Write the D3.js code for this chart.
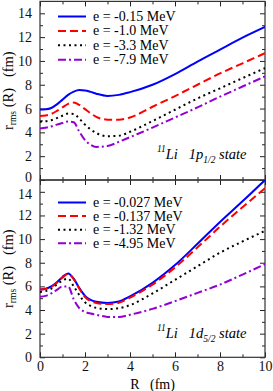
<!DOCTYPE html>
<html>
<head>
<meta charset="utf-8">
<script src="https://cdn.jsdelivr.net/npm/d3@7"></script>
<style>
  body { margin: 0; background: #fff; }
  svg { display: block; font-family: "Liberation Serif", "DejaVu Serif", serif; }
  text { white-space: pre; }
</style>
</head>
<body>
<script>
// R grid shared by every curve (fm)
const rGrid = [0, 0.25, 0.5, 0.75, 1.0, 1.25, 1.5, 1.75, 2.0, 2.25, 2.5, 3.0, 3.5, 4, 5, 6, 7, 8, 9, 10];

// 1p1/2 state
const pLabels = ["e = -0.15 MeV", "e = -1.0 MeV", "e = -3.3 MeV", "e = -7.9 MeV"];
const p015 = [5.92, 5.94, 6.05, 6.35, 6.75, 7.15, 7.42, 7.55, 7.52, 7.4, 7.25, 7.06, 7.15, 7.38, 8.0, 8.9, 9.95, 10.95, 11.95, 12.85];
const p10  = [5.38, 5.42, 5.55, 5.8, 6.1, 6.4, 6.5, 6.3, 5.95, 5.6, 5.3, 5.07, 5.06, 5.25, 6.15, 7.05, 8.0, 8.95, 9.8, 10.65];
const p33  = [4.9, 4.93, 5.02, 5.2, 5.4, 5.58, 5.55, 5.15, 4.65, 4.25, 3.95, 3.68, 3.72, 4.05, 4.95, 5.9, 6.85, 7.7, 8.55, 9.4];
const p79  = [4.32, 4.38, 4.5, 4.65, 4.78, 4.92, 4.85, 4.05, 3.35, 2.95, 2.78, 2.85, 3.2, 3.6, 4.4, 5.25, 6.1, 7.0, 7.85, 8.7];

// 1d5/2 state
const dLabels = ["e = -0.027 MeV", "e = -0.137 MeV", "e = -1.32 MeV", "e = -4.95 MeV"];
const d0027 = [5.73, 5.8, 6.0, 6.35, 6.8, 7.1, 6.65, 5.85, 5.2, 4.85, 4.7, 4.6, 4.72, 5.15, 6.3, 7.8, 9.6, 11.45, 13.2, 15.0];
const d0137 = [5.73, 5.78, 5.95, 6.3, 6.75, 7.05, 6.6, 5.8, 5.1, 4.75, 4.6, 4.5, 4.62, 5.05, 6.15, 7.6, 9.3, 11.05, 12.7, 14.3];
const d132  = [5.53, 5.6, 5.8, 6.15, 6.5, 6.65, 6.0, 5.25, 4.65, 4.35, 4.18, 4.08, 4.15, 4.42, 5.4, 6.55, 7.7, 8.85, 9.8, 10.7];
const d495  = [5.12, 5.2, 5.4, 5.7, 6.0, 6.0, 4.9, 4.15, 3.85, 3.7, 3.6, 3.42, 3.4, 3.6, 4.1, 4.75, 5.45, 6.15, 7.0, 7.87];

const xTicks = [0, 2, 4, 6, 8, 10];
const yTicks = [0, 2, 4, 6, 8, 10, 12, 14];

const styles = [
  { color: "#0000ff", dash: null, width: 2 },
  { color: "#ff0000", dash: "8,4", width: 2 },
  { color: "#000000", dash: "2,3.5", width: 2 },
  { color: "#9400d3", dash: "8,3,2,3", width: 2 }
];

const width = 273, height = 391;
const left = 40, right = 265;

const svg = d3.select("body").append("svg")
  .attr("width", width)
  .attr("height", height);

const x = d3.scaleLinear().domain([0, 10]).range([left, right]);

function panel(top, bottom, series, labels, legendY, legendStep, note, clipId, showX, nudge) {
  const y = d3.scaleLinear().domain([0, 15]).range([bottom, top]);
  const g = svg.append("g");

  svg.append("clipPath").attr("id", clipId)
    .append("rect").attr("x", left).attr("y", top).attr("width", right - left).attr("height", bottom - top);

  // ticks, all pointing inward
  const minorX = d3.range(1, 10, 2);
  const minorY = d3.range(1, 15, 2);
  g.append("g").attr("transform", `translate(0,${bottom})`)
    .call(d3.axisBottom(x).tickValues(xTicks).tickSizeInner(-5).tickSizeOuter(0).tickPadding(4)
      .tickFormat(showX ? d3.format("d") : ""));
  g.append("g").attr("transform", `translate(0,${bottom})`)
    .call(d3.axisBottom(x).tickValues(minorX).tickSizeInner(-3).tickSizeOuter(0).tickFormat(""));
  g.append("g").attr("transform", `translate(0,${top})`)
    .call(d3.axisTop(x).tickValues(xTicks).tickSizeInner(-5).tickSizeOuter(0).tickFormat(""));
  g.append("g").attr("transform", `translate(0,${top})`)
    .call(d3.axisTop(x).tickValues(minorX).tickSizeInner(-3).tickSizeOuter(0).tickFormat(""));
  const yAxis = g.append("g").attr("transform", `translate(${left},0)`)
    .call(d3.axisLeft(y).tickValues(yTicks).tickSizeInner(-5).tickSizeOuter(0).tickPadding(8));
  g.append("g").attr("transform", `translate(${left},0)`)
    .call(d3.axisLeft(y).tickValues(minorY).tickSizeInner(-3).tickSizeOuter(0).tickFormat(""));
  g.append("g").attr("transform", `translate(${right},0)`)
    .call(d3.axisRight(y).tickValues(yTicks).tickSizeInner(-5).tickSizeOuter(0).tickFormat(""));
  g.append("g").attr("transform", `translate(${right},0)`)
    .call(d3.axisRight(y).tickValues(minorY).tickSizeInner(-3).tickSizeOuter(0).tickFormat(""));

  g.selectAll(".domain").remove();
  g.selectAll(".tick line").attr("stroke", "#222");
  g.selectAll(".tick text").attr("font-size", 14).attr("font-family", "Liberation Serif").attr("fill", "#111");
  // keep the shared-edge labels (top 0, bottom 14) apart a little
  yAxis.selectAll(".tick text").filter(d => d === nudge.value).attr("dy", nudge.dy);

  // frame
  g.append("rect").attr("x", left).attr("y", top).attr("width", right - left).attr("height", bottom - top)
    .attr("fill", "none").attr("stroke", "#333").attr("stroke-width", 1.2);

  // curves
  const line = d3.line().x((d, i) => x(rGrid[i])).y(d => y(d)).curve(d3.curveMonotoneX);
  series.forEach((s, i) => {
    g.append("path").attr("d", line(s))
      .attr("clip-path", `url(#${clipId})`)
      .attr("fill", "none")
      .attr("stroke", styles[i].color)
      .attr("stroke-width", styles[i].width)
      .attr("stroke-dasharray", styles[i].dash);
  });

  // legend
  labels.forEach((lab, i) => {
    const ly = legendY + i * legendStep;
    g.append("line").attr("x1", 58).attr("x2", 86).attr("y1", ly).attr("y2", ly)
      .attr("stroke", styles[i].color).attr("stroke-width", styles[i].width)
      .attr("stroke-dasharray", styles[i].dash);
    g.append("text").attr("x", 93).attr("y", ly + 4.5)
      .attr("font-size", 14).text(lab);
  });

  // state note
  const t = g.append("text").attr("x", 157).attr("y", note.y).attr("font-size", 14.5).attr("font-style", "italic");
  t.append("tspan").attr("font-size", 9.5).attr("dy", -7).text("11");
  t.append("tspan").attr("dy", 7).text("Li   " + note.level);
  t.append("tspan").attr("font-size", 9.5).attr("dy", 4).text(note.sub);
  t.append("tspan").attr("dy", -4).text(" state");

  // y label
  const yl = svg.append("text")
    .attr("transform", `translate(13,${(top + bottom) / 2}) rotate(-90)`)
    .attr("text-anchor", "middle").attr("font-size", 14.5);
  yl.append("tspan").text("r");
  yl.append("tspan").attr("font-size", 9.5).attr("dy", 3).text("rms");
  yl.append("tspan").attr("dy", -3).text(" (R)   (fm)");
}

panel(1.4, 180, [p015, p10, p33, p79], pLabels, 16.5, 14.4,
  { y: 159, level: "1p", sub: "1/2" }, "clipTop", false, { value: 0, dy: "0.1em" });
panel(180, 357.3, [d0027, d0137, d132, d495], dLabels, 202.5, 13.6,
  { y: 338, level: "1d", sub: "5/2" }, "clipBot", true, { value: 14, dy: "0.45em" });

svg.append("text").attr("x", 152.5).attr("y", 388.5).attr("text-anchor", "middle")
  .attr("font-size", 14).text("R   (fm)");
</script>
</body>
</html>
